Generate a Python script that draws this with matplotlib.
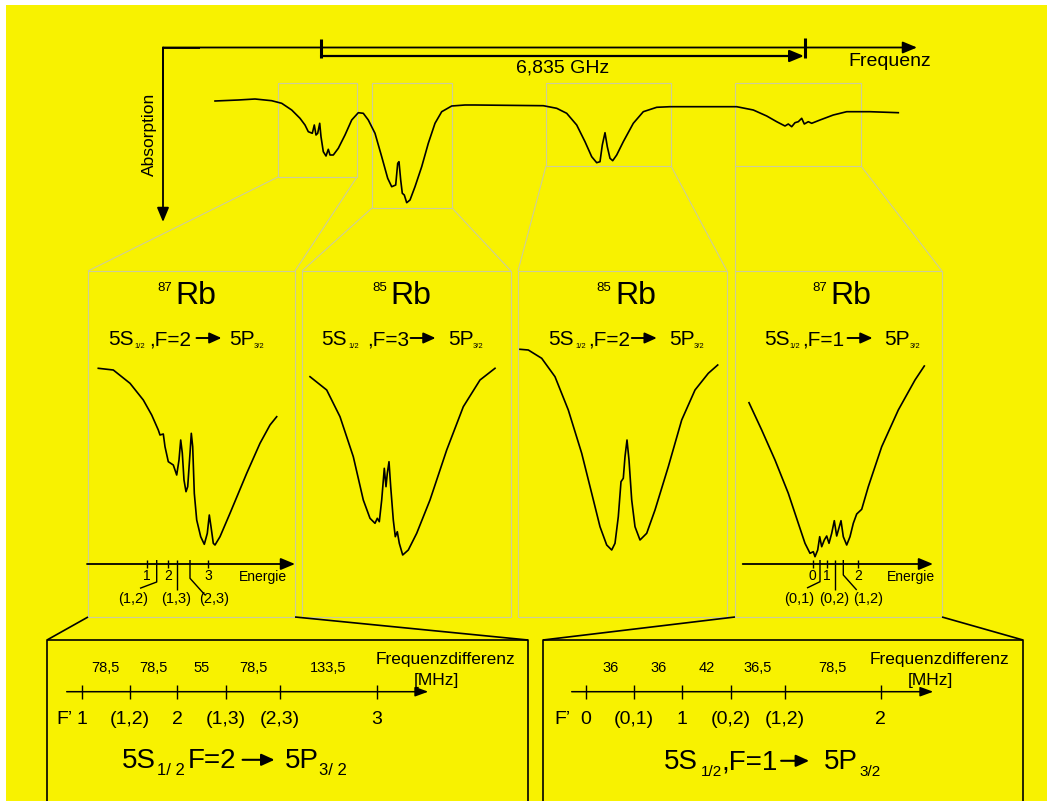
import matplotlib
matplotlib.use("Agg")
import matplotlib.pyplot as plt
from matplotlib.patches import Rectangle

plt.rcParams["font.family"] = ["Liberation Sans", "DejaVu Sans"]

# ------------------------------------------------------------------
# data (arbitrary units: detuning to the right, signal upwards)
# ------------------------------------------------------------------
# full scan over the Rb D2 line
scan = [(15, 114), (38.3, 115), (55, 116), (71.7, 114.3), (81.7, 111.7), (91.7, 105),
        (100, 96.7), (105, 90), (108.3, 83.3), (112.3, 81.7), (114.3, 90), (116, 80),
        (117.7, 81.7), (119.7, 91.7), (121, 78.3), (123.3, 63.3), (126, 59), (128.3, 65.7),
        (130, 60), (133.3, 60), (138.3, 66.7), (145, 80), (151.7, 95), (158.3, 102.3),
        (163.3, 101.7), (168.3, 95), (175, 81.7), (181.7, 58.3), (187.7, 36.7), (191.7, 28.3),
        (195.7, 30), (197.7, 51.7), (199, 53.3), (200.7, 35), (202.3, 21.7), (204.3, 20),
        (206.7, 12.3), (210, 15), (215, 28.3), (221.7, 48.3), (228.3, 71.7), (235, 91.7),
        (241.7, 103.3), (251.7, 109), (265, 110), (275, 110), (343.3, 109.3), (356.7, 106.7),
        (366.7, 101.7), (376.7, 90), (385, 73.3), (391.7, 58.3), (396.7, 52.3), (400, 53.3),
        (402.3, 70), (405, 82.3), (407.3, 68.3), (410, 56.7), (412.7, 54.3), (416.7, 60),
        (423.3, 73.3), (433.3, 91.7), (443.3, 103.3), (456.7, 107.7), (470, 108.3),
        (536.7, 108.3), (553.3, 105), (566.7, 99), (576.7, 93.3), (585, 89), (588.3, 91),
        (591.7, 88.3), (595, 92.3), (598.3, 93.3), (601.7, 96.7), (604.3, 91), (608.3, 93.3),
        (611.7, 91.7), (620, 95), (633.3, 100), (646.7, 103.3), (670, 103.3), (698.3, 102.3)]

# 87Rb 5S1/2 F=2 -> 5P3/2
rb87_f2 = [(10.3, 241.7), (25.3, 240), (42, 226.7), (55.3, 210), (63.7, 195), (70.3, 180),
           (72, 175), (75.3, 176), (77, 163.3), (80.3, 148.3), (85.3, 145), (88.7, 135),
           (91, 150), (92.7, 170), (94.3, 157), (96, 130), (98, 118.3), (99.7, 123.3),
           (102, 156.7), (103.3, 176.7), (104.7, 163.3), (106.3, 116.7), (108.7, 90),
           (112.7, 73.3), (116.3, 65.7), (119.3, 76.7), (121.3, 95), (123, 83.3),
           (125.3, 66.7), (127, 65), (132, 73.3), (142, 96.7), (158.7, 136.7), (172, 166.7),
           (182, 185), (188.7, 193.3)]

# 85Rb 5S1/2 F=3 -> 5P3/2
rb85_f3 = [(8, 233.3), (24.7, 220), (38, 193.3), (51.3, 153.3), (61.3, 110), (68, 91.7),
           (73, 86.7), (75.3, 91.7), (77.3, 88.3), (79.7, 110), (82.3, 141.7), (84, 123.3),
           (85.3, 136.7), (87, 148.3), (88.7, 123.3), (91.3, 90), (93.3, 73.3), (95.3, 78.3),
           (97.3, 66.7), (100.7, 55), (106.3, 60), (114.7, 76.7), (128, 110), (144.7, 160),
           (161.3, 203.3), (178, 230), (193, 241.7)]

# 85Rb 5S1/2 F=2 -> 5P3/2
rb85_f2 = [(2, 260.7), (10.3, 260), (23.7, 251.7), (37, 233.3), (50.3, 200), (63.7, 156.7),
           (73.7, 116.7), (82, 83.3), (88.7, 65), (93.7, 60), (97, 66.7), (100.3, 93.3),
           (103, 128.3), (105.3, 131.7), (107, 153.3), (109, 170), (111, 150), (113.7, 110),
           (117, 83.3), (122, 70), (128.7, 76.7), (137, 100), (150.3, 143.3), (163.7, 190),
           (177, 220), (190.3, 236.7), (199.7, 245)]

# 87Rb 5S1/2 F=1 -> 5P3/2
rb87_f1 = [(14, 207.3), (26.7, 180), (40, 150), (53.3, 116.7), (63.3, 86.7), (70, 66.7),
           (75, 56.7), (78.3, 58.3), (80, 53.3), (82.7, 60), (84.7, 73.3), (86.7, 63.3),
           (89.3, 70), (91.7, 74), (94, 66.7), (96.7, 76.7), (99.3, 89.3), (101.7, 74),
           (106, 89.3), (108.3, 73.3), (111.7, 65), (115, 73.3), (118.3, 86.7), (121.7, 96),
           (126.7, 100.7), (133.3, 123.3), (146.7, 163.3), (163.3, 200), (180, 230),
           (189.3, 244)]

# hyperfine levels F' and crossover resonances on the same detuning scale
rb87_f2_levels = [("1", 58.7), ("2", 80.3), ("3", 120.3)]
rb87_f2_cross = [("(1,2)", 68.7), ("(1,3)", 88.7), ("(2,3)", 102)]
rb87_f1_levels = [("0", 77.7), ("1", 92.3), ("2", 123.3)]
rb87_f1_cross = [("(0,1)", 85), ("(0,2)", 100), ("(1,2)", 108.3)]

# frequency differences between neighbouring resonances [MHz]
f2_names = ["1", "(1,2)", "2", "(1,3)", "(2,3)", "3"]
f2_gaps = ["78,5", "78,5", "55", "78,5", "133,5"]
f1_names = ["0", "(0,1)", "1", "(0,2)", "(1,2)", "2"]
f1_gaps = ["36", "36", "42", "36,5", "78,5"]

# ------------------------------------------------------------------
W_PX, H_PX = 1047, 801
BG = "#f8f200"
FRAME = "#cdcd9a"
K = "black"

fig = plt.figure(figsize=(W_PX / 100, H_PX / 100), dpi=100)
fig.patch.set_facecolor("white")
ax = fig.add_axes([0, 0, 1, 1])
ax.set_xlim(0, W_PX)
ax.set_ylim(H_PX, 0)
ax.axis("off")
ax.add_patch(Rectangle((6, 5), W_PX - 6, H_PX - 5, fc=BG, ec="none", zorder=0))


def arrow(a, x0, y0, x1, y1, lw=1.3, hl=12, hw=10):
    style = "-|>,head_length=%.2f,head_width=%.2f" % (hl * 0.72, hw * 0.36)
    a.annotate("", xy=(x1, y1), xytext=(x0, y0),
               arrowprops=dict(arrowstyle=style, lw=lw, color=K, fc=K,
                               shrinkA=0, shrinkB=0, mutation_scale=1),
               annotation_clip=False)


def line(xs, ys, a=None, **kw):
    (a or ax).plot(xs, ys, solid_capstyle="butt", clip_on=False, **kw)


# rich text: a run of pieces, each glued to the right edge of the previous one
rich_runs = []


def P(s, size, dy=0, dx=0):
    return (s, size, dy, dx, None)


def A(length, dx=0, raise_px=7, lw=1.4, hl=10, hw=9):
    return ("\u2014", length / 1.389, 0, dx, (raise_px, lw, hl, hw))


def rich(x, y, parts, anchor="center"):
    arts = []
    for s, size, dy, dx, arr in parts:
        kw = dict(fontsize=size, ha="left", va="baseline",
                  color="none" if arr else K, zorder=6)
        if not arts:
            t = ax.text(x, y - dy, s, **kw)
        else:
            t = ax.annotate(s, xy=(1, y), xycoords=(arts[-1][0], "data"),
                            xytext=(dx, dy), textcoords="offset pixels", **kw)
        arts.append((t, arr, y))
    rich_runs.append((arts, x, anchor))


def inset(left, bottom, width, height):
    a = fig.add_axes([left / W_PX, (H_PX - bottom) / H_PX, width / W_PX, height / H_PX])
    a.set_xlim(0, width)
    a.set_ylim(0, height)
    a.axis("off")
    a.patch.set_alpha(0)
    return a


# ---------------- overview: axes, bracket, scan -------------------
line([163, 163, 200], [120, 47.5, 47.5], color=K, lw=1.3)
arrow(ax, 163, 47.5, 917, 47.5, lw=1.3, hl=12, hw=10)
arrow(ax, 163, 47.5, 163, 222, lw=1.3, hl=12, hw=10)
ax.text(890, 62, "Frequenz", fontsize=14, ha="center", va="center")
ax.text(149, 134, "Absorption", fontsize=12.5, ha="center", va="center", rotation=90)

line([321, 321], [39, 57.5], color=K, lw=2.2)
line([805, 805], [38, 57.5], color=K, lw=2.2)
arrow(ax, 321, 56, 804, 56, lw=1.6, hl=12, hw=10)
ax.text(563, 68, "6,835 GHz", fontsize=14, ha="center", va="center")

ov = inset(200, 215, 710, 130)
ov.plot([p[0] for p in scan], [p[1] for p in scan], color=K, lw=1.2)

# zoom boxes and their connectors to the panels
zoom_boxes = [(278, 83, 357, 177), (372, 83, 452, 208), (546, 83, 671, 166), (735, 83, 861, 166)]
panels = [(88, 295), (302, 511), (518, 727), (735, 942)]
P_TOP, P_BOT = 271, 617
for (x0, y0, x1, y1), (pl, pr) in zip(zoom_boxes, panels):
    ax.add_patch(Rectangle((x0, y0), x1 - x0, y1 - y0, fc="none", ec=FRAME, lw=0.8, zorder=1))
    line([x0, pl], [y1, P_TOP], color=FRAME, lw=0.8, zorder=1)
    line([x1, pr], [y1, P_TOP], color=FRAME, lw=0.8, zorder=1)
    ax.add_patch(Rectangle((pl, P_TOP), pr - pl, P_BOT - P_TOP, fc="none", ec=FRAME, lw=0.8, zorder=1))

# ---------------- four zoomed panels ------------------------------
CURVE_BOTTOM, CURVE_H = 610, 270
panel_specs = [
    dict(mass="87", cx=186.5, curve=rb87_f2,
         head=[P("5S", 15), P("1/2", 5.5, -3.3, 1), P(",F=2", 15, 0, 4), A(25, 5),
               P("5P", 15, 0, 8), P("3/2", 5.5, -3.3, -1)],
         levels=rb87_f2_levels, cross=rb87_f2_cross, axis=(-1, 207), energie=174.7,
         hooks=[(68.7, 28, 52, 21.7), None, (102, 31.7, 117, 15)],
         cross_lbl=[45.3, 88, 126.3]),
    dict(mass="85", cx=402, curve=rb85_f3,
         head=[P("5S", 15), P("1/2", 5.5, -3.3, 1.5), P(",F=3", 15, 0, 8), A(25, 1.5),
               P("5P", 15, 0, 12.5), P("3/2", 5.5, -3.3, -1.5)]),
    dict(mass="85", cx=626.3, curve=rb85_f2,
         head=[P("5S", 15), P("1/2", 5.5, -3.3, 1), P(",F=2", 15, 0, 2), A(25, 2),
               P("5P", 15, 0, 12), P("3/2", 5.5, -3.3, -1)]),
    dict(mass="87", cx=842, curve=rb87_f1,
         head=[P("5S", 15), P("1/2", 5.5, -3.3, 0), P(",F=1", 15, 0, 2), A(25, 3),
               P("5P", 15, 0, 12), P("3/2", 5.5, -3.3, -1)],
         levels=rb87_f1_levels, cross=rb87_f1_cross, axis=(7.7, 198), energie=175.7,
         hooks=[(85, 28.3, 72, 22), None, (108.3, 35, 121.7, 20)],
         cross_lbl=[64, 99.3, 133.3]),
]

for (pl, pr), spec in zip(panels, panel_specs):
    rich(spec["cx"], 304.3, [P(spec["mass"], 9.5, 13.5), P("Rb", 23, 0, 3.5)])
    rich(spec["cx"], 345, spec["head"])
    pa = inset(pl, CURVE_BOTTOM, pr - pl, CURVE_H)
    cv = spec["curve"]
    pa.plot([p[0] for p in cv], [p[1] for p in cv], color=K, lw=1.2)
    if "levels" not in spec:
        continue
    ya = 46
    arrow(pa, spec["axis"][0], ya, spec["axis"][1], ya, lw=1.3, hl=12, hw=10)
    for name, xv in spec["levels"]:
        line([xv, xv], [ya - 4, ya + 4], a=pa, color=K, lw=1.0)
        pa.text(xv, ya - 12.5, name, fontsize=10, ha="center", va="center")
    pa.text(spec["energie"], ya - 12.5, "Energie", fontsize=10, ha="center", va="center")
    for (name, xv), hook, lx in zip(spec["cross"], spec["hooks"], spec["cross_lbl"]):
        if hook is None:
            line([xv, xv], [ya + 4, 20], a=pa, color=K, lw=1.0)
        else:
            _, yb, xe, ye = hook
            line([xv, xv, xe], [ya + 4, yb, ye], a=pa, color=K, lw=1.0)
        pa.text(lx, 11, name, fontsize=10.5, ha="center", va="center")

# ---------------- frequency difference boxes ----------------------
boxes = [
    dict(x0=47, x1=528, conn=(88, 295), axis=(66.7, 428.3),
         ticks=[81.7, 130, 177.3, 226, 280, 376.7], names=f2_names, gaps=f2_gaps,
         fprime=64, freq=445.5, mhz=436,
         formula=(121.7, 768.3, [P("5S", 20), P("1/ 2", 12, -7, 1.5), P("F=2", 20, 0, 3),
                                 A(32, 6, 8.5, 1.5, 11, 10), P("5P", 20, 0, 10),
                                 P("3/ 2", 12, -7, 0.5)])),
    dict(x0=543, x1=1023, conn=(735, 942), axis=(571.7, 933.3),
         ticks=[586, 634.3, 682.3, 730.7, 785, 880.7], names=f1_names, gaps=f1_gaps,
         fprime=562.5, freq=939.3, mhz=930,
         formula=(664, 769.3, [P("5S", 20), P("1/2", 11, -7, 2.5), P(",F=1", 20, 0, 0),
                               A(28, 3, 8.5, 1.5, 11, 10), P("5P", 20, 0, 15),
                               P("3/2", 11, -7, 1.5)])),
]
for b in boxes:
    line([b["x0"], b["x0"], b["x1"], b["x1"]], [H_PX + 2, 640, 640, H_PX + 2], color=K, lw=1.2)
    line([b["x0"], b["conn"][0]], [640, P_BOT], color=K, lw=1.2)
    line([b["x1"], b["conn"][1]], [640, P_BOT], color=K, lw=1.2)
    yax = 691.7
    arrow(ax, b["axis"][0], yax, b["axis"][1], yax, lw=1.1, hl=11, hw=8)
    for xt, name in zip(b["ticks"], b["names"]):
        line([xt, xt], [685, 698.5], color=K, lw=1.0)
        ax.text(xt, 720, name, fontsize=14, ha="center", va="center")
    for xa, xb, gap in zip(b["ticks"][:-1], b["ticks"][1:], b["gaps"]):
        ax.text((xa + xb) / 2, 668.3, gap, fontsize=10.5, ha="center", va="center")
    ax.text(b["fprime"], 720, "F\u2019", fontsize=14, ha="center", va="center")
    ax.text(b["freq"], 659.3, "Frequenzdifferenz", fontsize=12.5, ha="center", va="center")
    ax.text(b["mhz"], 680, "[MHz]", fontsize=12.5, ha="center", va="center")
    fx, fy, parts = b["formula"]
    rich(fx, fy, parts, anchor="left")

# ---------------- lay out rich text and draw its arrows -----------
fig.canvas.draw()
rend = fig.canvas.get_renderer()
for arts, x, anchor in rich_runs:
    left = arts[0][0].get_window_extent(rend).x0
    right = arts[-1][0].get_window_extent(rend).x1
    shift = (x - (left + right) / 2) if anchor == "center" else (x - left)
    t0 = arts[0][0]
    px, py = t0.get_position()
    t0.set_position((px + shift, py))
fig.canvas.draw()
for arts, x, anchor in rich_runs:
    for t, arr, yb in arts:
        if not arr:
            continue
        raise_px, lw, hl, hw = arr
        bb = t.get_window_extent(rend)
        arrow(ax, bb.x0, yb - raise_px, bb.x1, yb - raise_px, lw=lw, hl=hl, hw=hw)

fig.savefig("out.png", dpi=100, facecolor=fig.get_facecolor())
